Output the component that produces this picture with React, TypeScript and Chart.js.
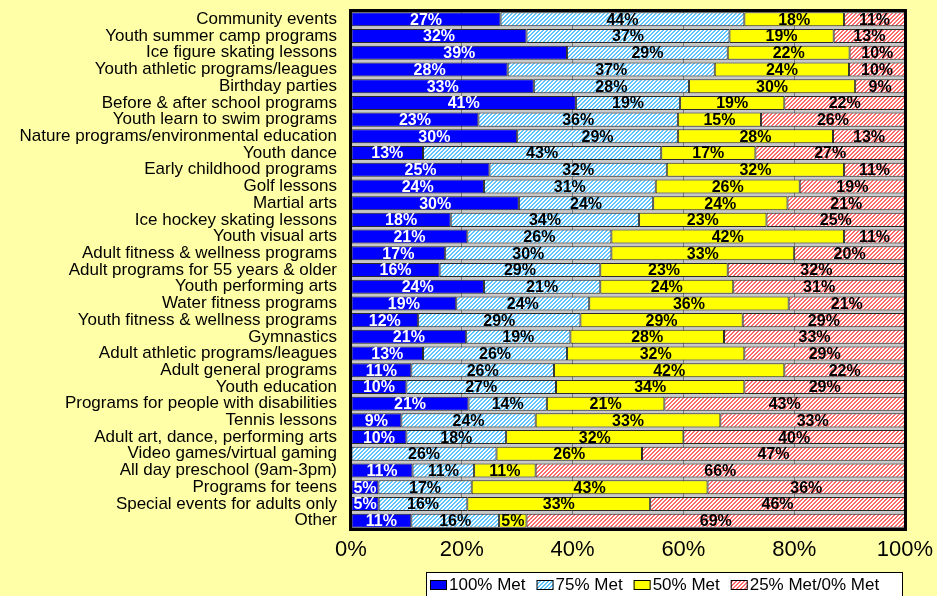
import React, { useEffect, useRef } from 'react';
import { Chart, registerables } from 'chart.js';

Chart.register(...registerables);

const categories = [
  'Community events',
  'Youth summer camp programs',
  'Ice figure skating lessons',
  'Youth athletic programs/leagues',
  'Birthday parties',
  'Before & after school programs',
  'Youth learn to swim programs',
  'Nature programs/environmental education',
  'Youth dance',
  'Early childhood programs',
  'Golf lessons',
  'Martial arts',
  'Ice hockey skating lessons',
  'Youth visual arts',
  'Adult fitness & wellness programs',
  'Adult programs for 55 years & older',
  'Youth performing arts',
  'Water fitness programs',
  'Youth fitness & wellness programs',
  'Gymnastics',
  'Adult athletic programs/leagues',
  'Adult general programs',
  'Youth education',
  'Programs for people with disabilities',
  'Tennis lessons',
  'Adult art, dance, performing arts',
  'Video games/virtual gaming',
  'All day preschool (9am-3pm)',
  'Programs for teens',
  'Special events for adults only',
  'Other',
];

const met100 = [27, 32, 39, 28, 33, 41, 23, 30, 13, 25, 24, 30, 18, 21, 17, 16, 24, 19, 12, 21, 13, 11, 10, 21, 9, 10, 0, 11, 5, 5, 11];
const met75 = [44, 37, 29, 37, 28, 19, 36, 29, 43, 32, 31, 24, 34, 26, 30, 29, 21, 24, 29, 19, 26, 26, 27, 14, 24, 18, 26, 11, 17, 16, 16];
const met50 = [18, 19, 22, 24, 30, 19, 15, 28, 17, 32, 26, 24, 23, 42, 33, 23, 24, 36, 29, 28, 32, 42, 34, 21, 33, 32, 26, 11, 43, 33, 5];
const met25 = [11, 13, 10, 10, 9, 22, 26, 13, 27, 11, 19, 21, 25, 11, 20, 32, 31, 21, 29, 33, 29, 22, 29, 43, 33, 40, 47, 66, 36, 46, 69];

const seriesNames = ['100% Met', '75% Met', '50% Met', '25% Met/0% Met'];
const xTickValues = [0, 20, 40, 60, 80, 100];

const FONT = '"Liberation Sans", Arial, Helvetica, sans-serif';

function makePattern(color: string): CanvasPattern | string {
  const c = document.createElement('canvas');
  c.width = 4;
  c.height = 4;
  const ctx = c.getContext('2d');
  if (!ctx) return color;
  ctx.fillStyle = color;
  ctx.fillRect(0, 0, 4, 4);
  ctx.fillStyle = '#ffffff';
  for (let y = 0; y < 4; y++) {
    for (let x = 0; x < 4; x++) {
      const k = (x + y) % 4;
      if (k === 2 || k === 3) ctx.fillRect(x, y, 1, 1);
    }
  }
  const p = ctx.createPattern(c, 'repeat');
  return p || color;
}

export default function App() {
  const ref = useRef<HTMLCanvasElement | null>(null);

  useEffect(() => {
    if (!ref.current) return;
    const raw = [met100, met75, met50, met25];
    const totals = categories.map((_, i) => raw.reduce((s, arr) => s + arr[i], 0));
    const norm = raw.map((arr) => arr.map((v, i) => (v / totals[i]) * 100));
    const fills = ['#0000FF', makePattern('#5EC4FF'), '#FFFF00', makePattern('#FF6A6A')];
    const labelColors = ['#FFFFFF', '#000000', '#000000', '#000000'];

    const bgPlugin = {
      id: 'plotBg',
      beforeDraw(chart: any) {
        const { ctx, chartArea } = chart;
        ctx.save();
        ctx.fillStyle = '#C8C8C8';
        ctx.fillRect(chartArea.left, chartArea.top, chartArea.right - chartArea.left, chartArea.bottom - chartArea.top);
        ctx.restore();
      },
    };

    const labelPlugin = {
      id: 'segLabels',
      afterDatasetsDraw(chart: any) {
        const { ctx } = chart;
        ctx.save();
        ctx.font = `bold 16px ${FONT}`;
        ctx.textAlign = 'center';
        ctx.textBaseline = 'middle';
        chart.data.datasets.forEach((_: any, di: number) => {
          const meta = chart.getDatasetMeta(di);
          meta.data.forEach((el: any, i: number) => {
            const v = raw[di][i];
            if (!v) return;
            const p = el.getProps(['x', 'base', 'y'], true);
            ctx.fillStyle = labelColors[di];
            ctx.fillText(v + '%', (p.x + p.base) / 2, p.y + 1);
          });
        });
        ctx.restore();
      },
    };

    const frameLegendPlugin = {
      id: 'frameLegend',
      afterDraw(chart: any) {
        const { ctx, chartArea } = chart;
        ctx.save();
        ctx.strokeStyle = '#000000';
        ctx.lineWidth = 3;
        ctx.strokeRect(chartArea.left - 0.5, chartArea.top - 0.5, chartArea.right - chartArea.left + 1, chartArea.bottom - chartArea.top + 1);
        // legend
        const boxL = 426;
        const boxT = 572;
        const boxR = 903;
        ctx.fillStyle = '#FFFFFF';
        ctx.fillRect(boxL, boxT, boxR - boxL, 40);
        ctx.lineWidth = 1;
        ctx.strokeRect(boxL + 0.5, boxT + 0.5, boxR - boxL - 1, 40);
        ctx.font = `17px ${FONT}`;
        ctx.textBaseline = 'middle';
        ctx.textAlign = 'left';
        let x = 430;
        const cy = 585;
        chart.data.datasets.forEach((ds: any) => {
          ctx.fillStyle = ds.backgroundColor;
          ctx.fillRect(x, cy - 5, 17, 10);
          ctx.strokeStyle = '#000000';
          ctx.strokeRect(x + 0.5, cy - 4.5, 16, 9);
          ctx.fillStyle = '#000000';
          ctx.fillText(ds.label, x + 19, cy);
          x += 19 + ctx.measureText(ds.label).width + 11;
        });
        ctx.restore();
      },
    };

    const chart = new Chart(ref.current, {
      type: 'bar',
      data: {
        labels: categories,
        datasets: seriesNames.map((name, di) => ({
          label: name,
          data: norm[di],
          backgroundColor: fills[di] as any,
          borderColor: '#2a2a2a',
          borderWidth: 1,
          borderSkipped: false,
          barPercentage: 0.84,
          categoryPercentage: 1,
        })),
      },
      options: {
        indexAxis: 'y',
        animation: false,
        responsive: false,
        maintainAspectRatio: false,
        layout: { padding: { left: 0, top: 11, right: 32, bottom: 0 } },
        plugins: {
          legend: { display: false },
          tooltip: { enabled: false },
        },
        scales: {
          x: {
            stacked: true,
            min: 0,
            max: 100,
            afterBuildTicks(scale: any) {
              scale.ticks = xTickValues.map((v) => ({ value: v }));
            },
            afterFit(scale: any) {
              scale.height = 67;
              scale.paddingLeft = 0;
              scale.paddingRight = 0;
              scale.paddingTop = 0;
              scale.paddingBottom = 0;
            },
            ticks: {
              color: '#000000',
              font: { family: FONT, size: 22 },
              padding: 8,
              maxRotation: 0,
              callback: (v: any) => v + '%',
            },
            grid: { display: true, color: '#7a7a7a', lineWidth: 1, drawTicks: false, tickLength: 0 },
            border: { display: false },
          },
          y: {
            stacked: true,
            afterFit(scale: any) {
              scale.width = 351;
              scale.paddingLeft = 0;
              scale.paddingRight = 0;
              scale.paddingTop = 0;
              scale.paddingBottom = 0;
            },
            ticks: {
              color: '#000000',
              autoSkip: false,
              font: { family: FONT, size: 17, lineHeight: 1 },
              padding: 14,
            },
            grid: { display: false, drawTicks: false, tickLength: 0 },
            border: { display: false },
          },
        },
      },
      plugins: [bgPlugin, labelPlugin, frameLegendPlugin],
    });
    return () => chart.destroy();
  }, []);

  return (
    <div style={{ position: 'fixed', left: 0, top: 0, width: 937, height: 596, background: '#FFFFA8' }}>
      <canvas ref={ref} width={937} height={596} style={{ display: 'block', width: 937, height: 596 }} />
    </div>
  );
}
